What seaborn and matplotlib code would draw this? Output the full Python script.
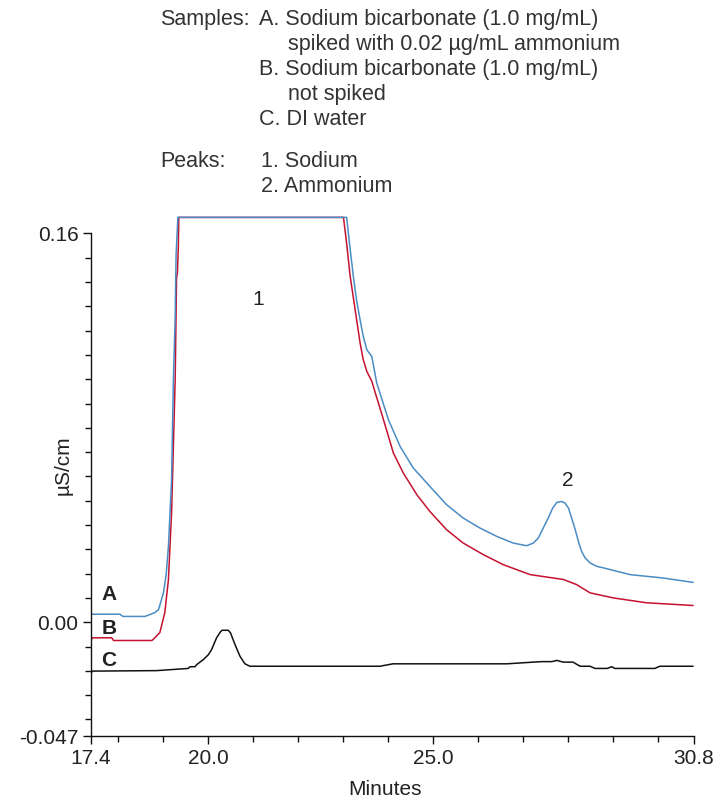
import matplotlib
matplotlib.use("Agg")
import matplotlib.pyplot as plt
import seaborn as sns
import numpy as np

# trace A: sodium bicarbonate spiked with ammonium (blue)
a_min = [17.40, 18.04, 18.11, 18.60, 18.71, 18.82, 18.90, 19.01, 19.07, 19.12, 19.19,
         19.23, 19.27, 19.29, 19.33, 23.08, 23.16, 23.23, 23.30, 23.38, 23.45, 23.53,
         23.64, 23.75, 24.01, 24.27, 24.56, 24.93, 25.30, 25.67, 26.04, 26.42, 26.78,
         27.08, 27.23, 27.34, 27.45, 27.56, 27.66, 27.75, 27.86, 27.93, 28.01, 28.08,
         28.16, 28.23, 28.30, 28.38, 28.49, 28.64, 28.78, 29.38, 30.12, 30.78]
a_us = [0.0033, 0.0033, 0.0024, 0.0024, 0.0032, 0.0040, 0.0052, 0.0122, 0.0196, 0.0312,
        0.0587, 0.0998, 0.1256, 0.1511, 0.1666, 0.1666, 0.1532, 0.1422, 0.1326, 0.1244,
        0.1176, 0.1121, 0.1093, 0.0984, 0.0833, 0.0723, 0.0635, 0.0559, 0.0484, 0.0429,
        0.0388, 0.0353, 0.0326, 0.0315, 0.0326, 0.0347, 0.0388, 0.0429, 0.0470, 0.0493,
        0.0497, 0.0491, 0.0470, 0.0429, 0.0381, 0.0333, 0.0292, 0.0265, 0.0244, 0.0230,
        0.0224, 0.0196, 0.0182, 0.0164]

# trace B: sodium bicarbonate not spiked (red)
b_min = [17.40, 17.43, 17.86, 17.90, 18.75, 18.78, 18.93, 19.04, 19.12, 19.19, 19.27,
         19.30, 19.32, 19.34, 19.35, 23.01, 23.08, 23.16, 23.27, 23.38, 23.45, 23.53,
         23.64, 23.90, 24.12, 24.34, 24.64, 24.93, 25.30, 25.67, 26.12, 26.56, 27.16,
         27.90, 28.19, 28.49, 29.01, 29.75, 30.78]
b_us = [-0.0074, -0.0064, -0.0064, -0.0075, -0.0075, -0.0071, -0.0042, 0.0040, 0.0176,
        0.0451, 0.0998, 0.1415, 0.1440, 0.1545, 0.1666, 0.1666, 0.1559, 0.1422, 0.1285,
        0.1148, 0.1080, 0.1032, 0.0991, 0.0833, 0.0696, 0.0614, 0.0525, 0.0456, 0.0381,
        0.0326, 0.0278, 0.0237, 0.0196, 0.0176, 0.0155, 0.0121, 0.0100, 0.0080, 0.0069]

# trace C: DI water (black)
c_min = [17.40, 17.43, 18.86, 19.56, 19.60, 19.71, 19.75, 19.90, 20.01, 20.08, 20.19,
         20.27, 20.31, 20.45, 20.50, 20.60, 20.71, 20.82, 20.93, 23.82, 24.11, 26.64,
         27.23, 27.42, 27.64, 27.75, 27.89, 28.11, 28.27, 28.49, 28.60, 28.87, 28.97,
         29.04, 29.93, 30.04, 30.78]
c_us = [-0.0210, -0.0201, -0.0199, -0.0190, -0.0183, -0.0183, -0.0174, -0.0153, -0.0133,
        -0.0112, -0.0064, -0.0041, -0.0033, -0.0033, -0.0044, -0.0092, -0.0140, -0.0171,
        -0.0181, -0.0181, -0.0171, -0.0171, -0.0164, -0.0162, -0.0162, -0.0157, -0.0164,
        -0.0164, -0.0181, -0.0181, -0.0190, -0.0190, -0.0183, -0.0190, -0.0190, -0.0181,
        -0.0181]

x_major = [17.4, 20.0, 25.0, 30.8]
x_labels = ["17.4", "20.0", "25.0", "30.8"]
y_major = [-0.047, 0.0, 0.16]
y_labels = ["-0.047", "0.00", "0.16"]

header_lines = [
    (160, 25, "Samples:"), (259, 25, "A. Sodium bicarbonate (1.0 mg/mL)"),
    (288, 50, "spiked with 0.02 µg/mL ammonium"),
    (259, 75, "B. Sodium bicarbonate (1.0 mg/mL)"),
    (288, 100, "not spiked"),
    (259, 125, "C. DI water"),
    (160, 167, "Peaks:"), (261, 167, "1. Sodium"),
    (261, 192, "2. Ammonium"),
]

sns.set_style("ticks")
plt.rcParams["font.family"] = ["Liberation Sans", "DejaVu Sans"]

fig = plt.figure(figsize=(7.14, 8), dpi=100)
ax = fig.add_axes([0.1275, 0.0794, 0.8445, 0.6592])

sns.lineplot(x=b_min, y=b_us, ax=ax, color="#c41230", linewidth=1.1, sort=False, estimator=None)
sns.lineplot(x=a_min, y=a_us, ax=ax, color="#4a8cc4", linewidth=1.1, sort=False, estimator=None)
sns.lineplot(x=c_min, y=c_us, ax=ax, color="#111111", linewidth=1.1, sort=False, estimator=None)

ax.set_xlim(17.4, 30.8)
ax.set_ylim(-0.047, 0.17)
sns.despine(ax=ax)
ax.spines["left"].set_bounds(-0.047, 0.16)
for s in ["left", "bottom"]:
    ax.spines[s].set_linewidth(1.0)
    ax.spines[s].set_color("#111111")

ax.set_xticks(x_major)
ax.set_xticklabels(x_labels)
ax.set_xticks([m for m in range(18, 31) if m not in (20, 25)], minor=True)
ax.set_yticks(y_major)
ax.set_yticklabels(y_labels)
ax.set_yticks(np.arange(-4, 16) / 100, minor=True)
ax.tick_params(which="major", length=6, width=1, labelsize=15, colors="#111111", pad=3)
ax.tick_params(which="minor", length=4, width=1, colors="#111111")
for lab in ax.get_xticklabels() + ax.get_yticklabels():
    lab.set_color("#222222")

ax.set_xlabel("Minutes", fontsize=15, color="#222222")
ax.set_ylabel("µS/cm", fontsize=15, color="#222222")
ax.xaxis.set_label_coords(0.4876, -0.082)
ax.yaxis.set_label_coords(-0.03, 0.515)

# trace and peak labels
for lbl, yv in zip(["A", "B", "C"], [0.0114, -0.0026, -0.0157]):
    ax.text(17.80, yv, lbl, fontsize=15, fontweight="bold", ha="center", va="center", color="#222222")
ax.text(21.11, 0.1330, "1", fontsize=15, ha="center", va="center", color="#222222")
ax.text(28.00, 0.0582, "2", fontsize=15, ha="center", va="center", color="#222222")

for px, py, txt in header_lines:
    fig.text(px / 714, 1 - py / 800, txt, fontsize=15.5, ha="left", va="baseline", color="#333333")

fig.savefig("out.png", dpi=100)
